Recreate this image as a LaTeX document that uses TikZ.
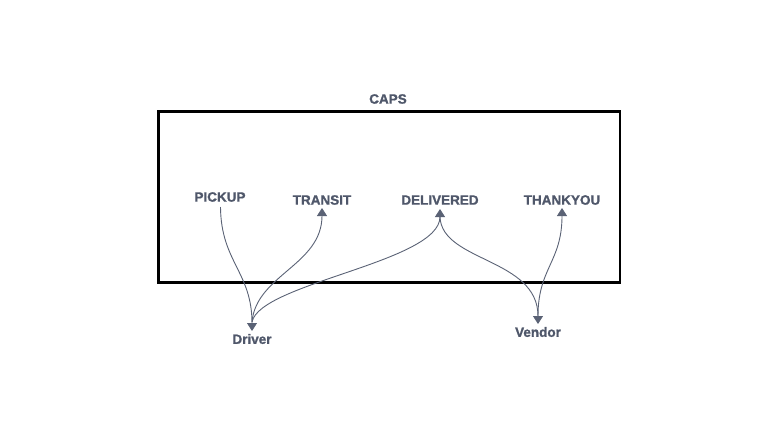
\documentclass[tikz,border=0pt]{standalone}
\usepackage{fontspec}
\setmainfont{Liberation Sans}
\newfontfamily\labfont[FakeBold=1.2]{Liberation Sans Bold}
\usetikzlibrary{arrows.meta}
\definecolor{lbl}{HTML}{4F576A}
\definecolor{edge}{HTML}{5A6275}
\tikzset{
  lab/.style={text=lbl, font=\labfont\fontsize{13.5}{15}\selectfont, inner sep=1pt},
  conn/.style={draw=edge, line width=0.9pt, -{Triangle[length=8pt,width=10pt]}},
}
\begin{document}
\begin{tikzpicture}[x=1pt,y=-1pt]
\useasboundingbox (0,0) rectangle (779,436);
\draw[line width=2.6pt, black] (158.5,111.5) rectangle (620,282.5);
\node[lab] (caps) at (388,99) {CAPS};
\node[lab] (pickup) at (220,197) {PICKUP};
\node[lab] (transit) at (322,200) {TRANSIT};
\node[lab] (delivered) at (440,200) {DELIVERED};
\node[lab] (thankyou) at (562,200) {THANKYOU};
\node[lab] (driver) at (252,339) {Driver};
\node[lab] (vendor) at (538,332) {Vendor};
\coordinate (dtop) at (252,331);
\coordinate (dstart) at (252,322);
\coordinate (vtop) at (538,324);
\coordinate (vstart) at (538,316);
\coordinate (pbot) at (220.5,207);
\coordinate (ttip) at (322,208);
\coordinate (deltip) at (440,209);
\coordinate (delbot) at (440,217);
\coordinate (thtip) at (562,208);
\draw[conn] (pbot) .. controls (221,262) and (252,272) .. (dtop);
\draw[conn] (dstart) .. controls (256,275) and (322,265) .. (ttip);
\draw[conn] (dstart) .. controls (260,283) and (440,262) .. (deltip);
\draw[conn] (delbot) .. controls (442,262) and (538,258) .. (vtop);
\draw[conn] (vstart) .. controls (538,268) and (562,262) .. (thtip);
\end{tikzpicture}
\end{document}
